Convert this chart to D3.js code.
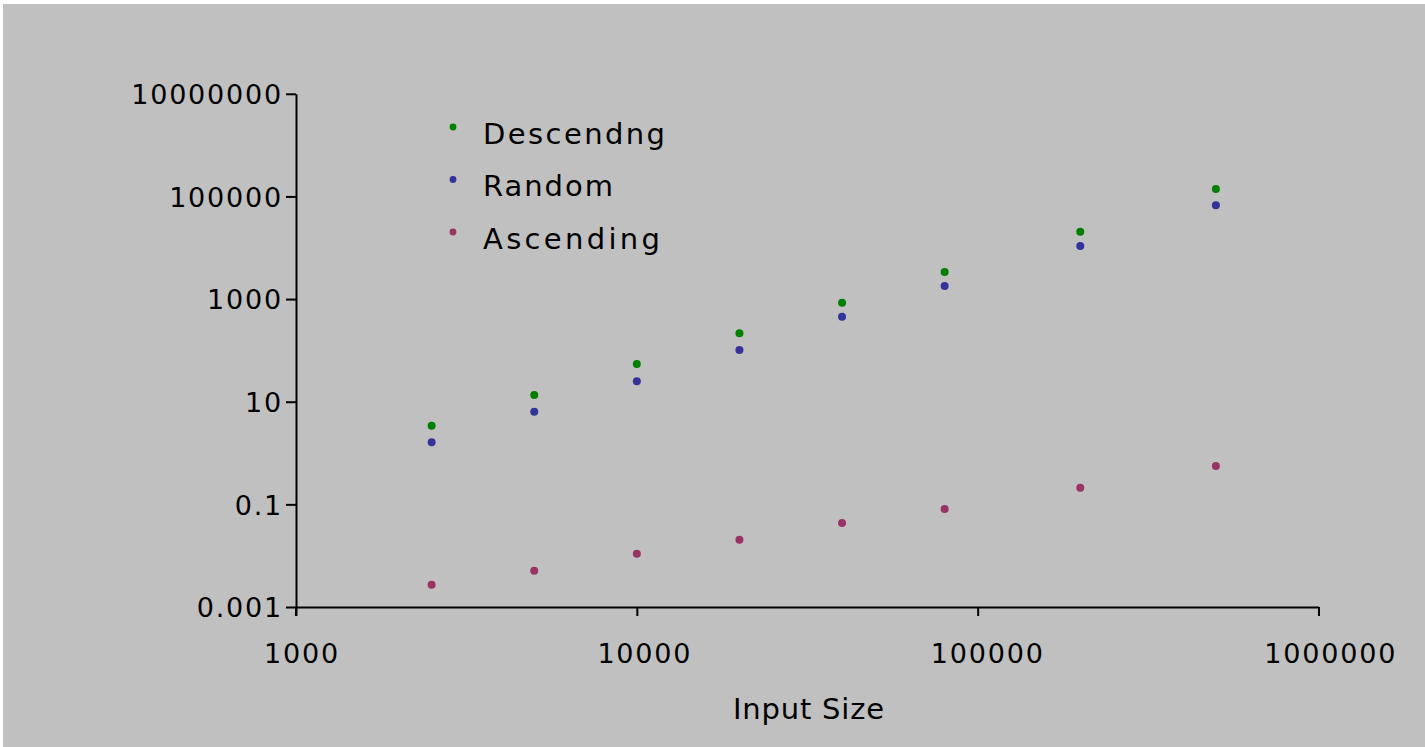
<!DOCTYPE html>
<html lang="en">
<head>
	<meta charset="UTF-8" />
	<script src="https://d3js.org/d3.v7.min.js"></script>
	<style>
		body { margin: 0; background: #ffffff; }
		svg { display: block; }
	</style>
</head>
<body>
	<svg id="chart" width="1425" height="747"></svg>
	<script>
		// input sizes (x) and run times for each ordering (y)
		var sizes = [2500, 5000, 10000, 20000, 40000, 80000, 200000, 500000];
		var descending = [3.41, 13.5, 54.3, 215, 850, 3370, 20550, 139600];
		var random = [1.62, 6.39, 25, 101.8, 454, 1800, 10820, 67200];
		var ascending = [0.00272, 0.0051, 0.0109, 0.0205, 0.0433, 0.0813, 0.211, 0.558];

		var seriesNames = ['Descendng', 'Random', 'Ascending'];
		var seriesColors = ['#008000', '#333399', '#993366'];
		var xTicks = [1000, 10000, 100000, 1000000];
		var yTicks = [0.001, 0.1, 10, 1000, 100000, 10000000];
		var xTitle = 'Input Size';

		var tickFont = 'Verdana, "DejaVu Sans", sans-serif';
		var handFont = '"Comic Sans MS", "DejaVu Sans", sans-serif';

		var svg = d3.select('#chart');

		// grey plot background
		svg.append('rect')
			.attr('x', 3).attr('y', 4)
			.attr('width', 1422).attr('height', 743)
			.attr('fill', '#c0c0c0');

		var x = d3.scaleLog().domain([1000, 1000000]).range([296, 1318.5]);
		var y = d3.scaleLog().domain([0.001, 10000000]).range([607, 93.8]);

		/////////// axes
		var xAxis = d3.axisBottom(x).tickValues(xTicks).tickSizeInner(9).tickSizeOuter(0)
			.tickFormat(d3.format('d'));
		var gx = svg.append('g').attr('transform', 'translate(0,' + y(0.001) + ')').call(xAxis);

		var yAxis = d3.axisLeft(y).tickValues(yTicks).tickSizeInner(10).tickSizeOuter(0)
			.tickFormat(function(d) { return d < 1 ? String(d) : d3.format('d')(d); });
		var gy = svg.append('g').attr('transform', 'translate(' + x(1000) + ',0)').call(yAxis);

		[gx, gy].forEach(function(g) {
			g.selectAll('.domain').attr('stroke', '#000').attr('stroke-width', 2);
			g.selectAll('.tick line').attr('stroke', '#000').attr('stroke-width', 2);
			g.selectAll('.tick text')
				.attr('fill', '#000')
				.style('font-family', tickFont)
				.style('font-size', '27px')
				.style('letter-spacing', '1.8px');
		});
		// y axis runs down past the x axis a little, like the original
		gy.append('line')
			.attr('x1', 0).attr('x2', 0)
			.attr('y1', y(0.001)).attr('y2', y(0.001) + 9)
			.attr('stroke', '#000').attr('stroke-width', 2);

		gx.selectAll('.tick text')
			.attr('y', 0)
			.attr('dy', 0)
			.attr('dx', function(d) { return String(d).length * 2.1 - 3; })
			.attr('transform', 'translate(0,56)');

		gy.selectAll('.tick text')
			.attr('x', -13)
			.attr('dy', '0.36em');

		/////////// points
		var allSeries = [descending, random, ascending];
		allSeries.forEach(function(vals, si) {
			svg.append('g')
				.selectAll('circle')
				.data(vals)
				.enter().append('circle')
				.attr('cx', function(d, i) { return x(sizes[i]); })
				.attr('cy', function(d) { return y(d); })
				.attr('r', 4)
				.attr('fill', seriesColors[si]);
		});

		/////////// legend
		var legendWidths = [182, 130, 177];
		var legend = svg.append('g').attr('transform', 'translate(453,127)');
		var items = legend.selectAll('g')
			.data(seriesNames)
			.enter().append('g')
			.attr('transform', function(d, i) { return 'translate(0,' + (i * 52.5) + ')'; });
		items.append('circle')
			.attr('r', 3.4)
			.attr('fill', function(d, i) { return seriesColors[i]; });
		items.append('text')
			.attr('x', 30)
			.attr('y', 16.5)
			.attr('textLength', function(d, i) { return legendWidths[i]; })
			.attr('lengthAdjust', 'spacing')
			.style('font-family', handFont)
			.style('font-size', '29px')
			.attr('fill', '#000')
			.text(function(d) { return d; });

		/////////// axis title
		svg.append('text')
			.attr('x', 733)
			.attr('y', 719)
			.attr('textLength', 151)
			.attr('lengthAdjust', 'spacing')
			.style('font-family', handFont)
			.style('font-size', '29px')
			.attr('fill', '#000')
			.text(xTitle);
	</script>
</body>
</html>
